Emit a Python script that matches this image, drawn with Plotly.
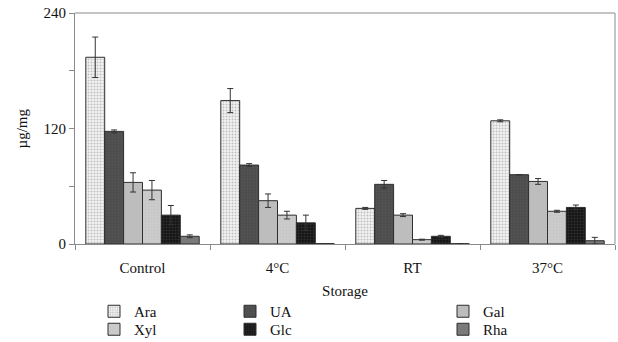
import plotly.graph_objects as go

categories = ["Control", "4°C", "RT", "37°C"]
series_names = ["Ara", "UA", "Gal", "Xyl", "Glc", "Rha"]

ara = [194, 149, 37, 128]
ua = [117, 82, 62, 72]
gal = [64, 45, 30, 65]
xyl = [56, 30, 4.5, 34]
glc = [30, 22, 8, 38]
rha = [8, 0.4, 0.3, 3.4]

ara_err = [21, 12.5, 1, 1]
ua_err = [1.5, 1.5, 4, 0]
gal_err = [10, 7, 1.5, 3]
xyl_err = [10, 4, 0.5, 1]
glc_err = [10, 8, 1, 2.5]
rha_err = [1.5, 0, 0, 3.5]

values = [ara, ua, gal, xyl, glc, rha]
errors = [ara_err, ua_err, gal_err, xyl_err, glc_err, rha_err]

styles = [
    dict(color="#f2f2f2", pattern=dict(shape=".", fgcolor="#8c8c8c", size=3, solidity=0.35)),
    dict(color="#4d4d4d", pattern=dict(shape="+", fgcolor="#5e5e5e", size=3, solidity=0.3)),
    dict(color="#bdbdbd", pattern=dict(shape="", fgcolor="#bdbdbd")),
    dict(color="#cccccc", pattern=dict(shape="+", fgcolor="#bcbcbc", size=3, solidity=0.3)),
    dict(color="#151515", pattern=dict(shape=".", fgcolor="#4a4a4a", size=3, solidity=0.35)),
    dict(color="#7a7a7a", pattern=dict(shape="", fgcolor="#7a7a7a")),
]
legend_ids = ["legend", "legend2", "legend3", "legend4", "legend5", "legend6"]
legend_x = [94, 230, 443, 94, 230, 443]
legend_y = [295, 295, 295, 313, 313, 313]

FONT = "Liberation Serif"

fig = go.Figure()
for name, vals, errs, st, lg in zip(series_names, values, errors, styles, legend_ids):
    fig.add_trace(go.Bar(
        x=categories, y=vals, name=name, legend=lg,
        marker=dict(color=st["color"], pattern=st["pattern"],
                    line=dict(color="#2e2e2e", width=1)),
        error_y=dict(type="data", array=errs, visible=True,
                     color="#333333", thickness=1, width=3),
    ))

legends = {}
for lg, lx, ly in zip(legend_ids, legend_x, legend_y):
    legends[lg] = dict(font=dict(family=FONT, size=15, color="#111"),
                       bgcolor="rgba(0,0,0,0)", orientation="v",
                       yanchor="top", xanchor="left", tracegroupgap=0,
                       itemwidth=30, xref="container", yref="container",
                       x=lx / 618, y=1 - ly / 342)

fig.update_layout(
    width=618, height=342,
    margin=dict(l=75, r=3, t=13, b=98, autoexpand=False),
    paper_bgcolor="white", plot_bgcolor="white",
    barmode="group", bargap=0.16, bargroupgap=0,
    font=dict(family=FONT, size=14, color="#111"),
    showlegend=True,
    **legends,
)
fig.update_xaxes(
    showline=True, linecolor="#8a8a8a", linewidth=1, mirror=False,
    ticks="outside", tickson="boundaries", ticklen=5, tickcolor="#8a8a8a",
    tickfont=dict(family=FONT, size=15), ticklabelstandoff=10,
    title=dict(text="Storage", font=dict(family=FONT, size=15), standoff=10),
    showgrid=False,
)
fig.update_yaxes(
    range=[0, 240], tickvals=[0, 60, 120, 180, 240],
    ticktext=["0", "", "120", "", "240"],
    showline=True, linecolor="#8a8a8a", linewidth=1,
    ticks="outside", ticklen=5, tickcolor="#8a8a8a",
    tickfont=dict(family=FONT, size=15),
    showgrid=False, zeroline=False,
)
fig.add_annotation(text="µg/mg", xref="paper", yref="paper", x=-0.1, y=0.5,
                   xanchor="center", yanchor="middle", textangle=-90,
                   showarrow=False, font=dict(family=FONT, size=15, color="#111"))
# top and right border lines
fig.add_shape(type="line", xref="paper", yref="paper", x0=0, x1=1, y0=1, y1=1,
              line=dict(color="#b0b0b0", width=1.5))
fig.add_shape(type="line", xref="paper", yref="paper", x0=1, x1=1, y0=0, y1=1,
              line=dict(color="#b0b0b0", width=1.5))

fig.write_html("out.html")
